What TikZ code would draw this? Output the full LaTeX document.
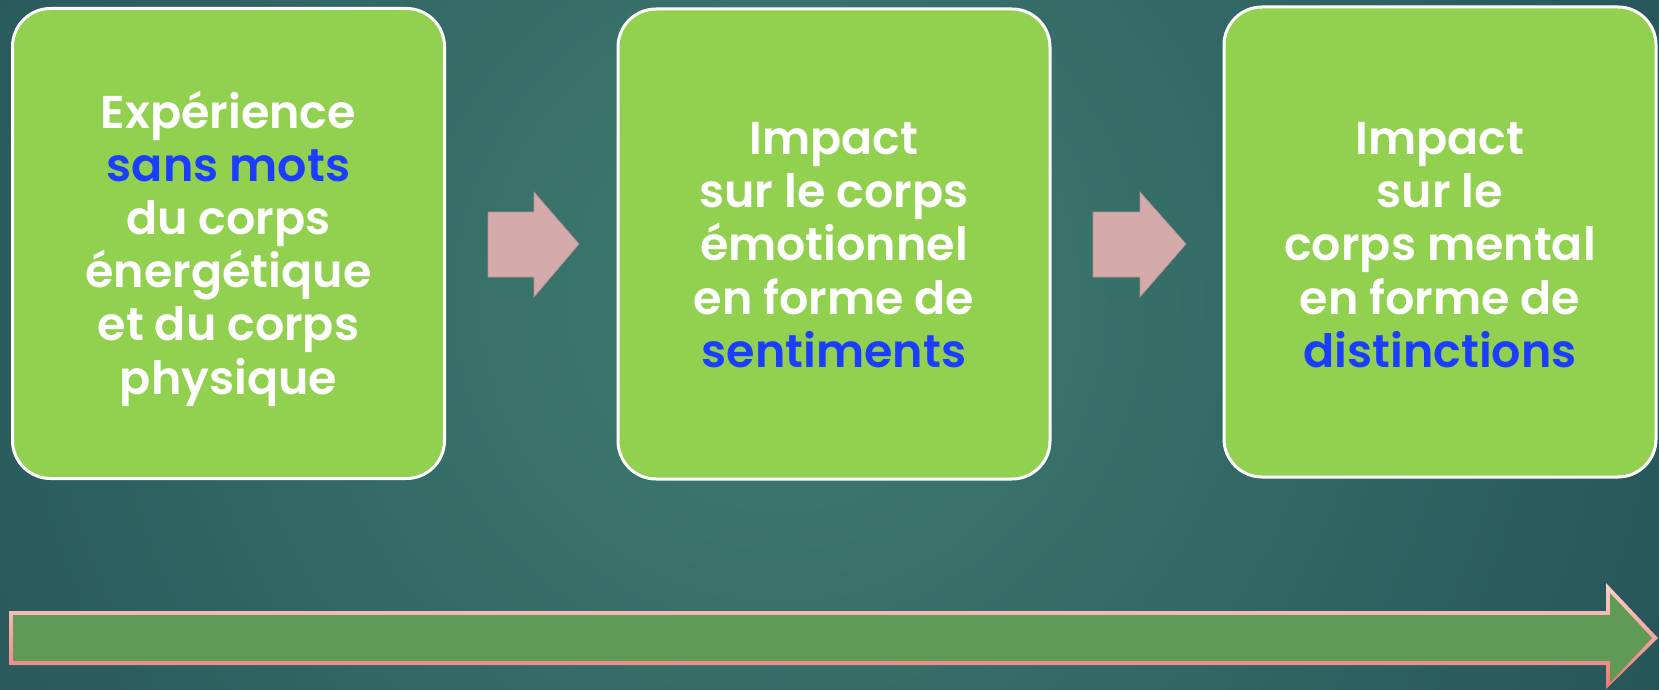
\documentclass[tikz,border=0pt]{standalone}
\usepackage{fontspec}
\setmainfont{Poppins}[BoldFont={Poppins SemiBold}]
\definecolor{bgout}{HTML}{183F4C}
\definecolor{bgin}{HTML}{3F7D71}
\definecolor{boxgreen}{HTML}{92D050}
\definecolor{txtblue}{HTML}{1A3DFF}
\definecolor{arrpink}{HTML}{D4AAAA}
\definecolor{arrgreen}{HTML}{5F9B57}
\definecolor{rimtop}{HTML}{F9D2CA}
\definecolor{rimbot}{HTML}{F07676}
\tikzset{
  stepbox/.style={draw=white, line width=1.5pt, fill=boxgreen, rounded corners=19pt,
    minimum width=216pt, minimum height=235pt, inner sep=0pt},
  steptext/.style={inner sep=0pt, align=center,
    text=white, font=\bfseries\fontsize{23}{26.6}\selectfont}
}
\newcommand{\bw}[1]{\textcolor{txtblue}{#1}}
\begin{document}
\begin{tikzpicture}[x=0.5pt,y=-0.5pt]
\useasboundingbox (0,0) rectangle (1659,690);
% background
\fill[bgout] (0,0) rectangle (1659,690);
\begin{scope}
\clip (0,0) rectangle (1659,690);
\shade[inner color=bgin, outer color=bgout] (780,300) circle (1500);
\end{scope}
% boxes
\node[stepbox] (b1) at (228.5,243.5) {};
\node[steptext] (t1) at ([yshift=-2.5pt]b1.center) {Expérience\\\bw{sans mots}\\du corps\\énergétique\\et du corps\\physique};
\node[stepbox] (b2) at (834,244) {};
\node[steptext] (t2) at ([yshift=-0.5pt]b2.center) {Impact\\sur le corps\\émotionnel\\en forme de\\\bw{sentiments}};
\node[stepbox] (b3) at (1440,242) {};
\node[steptext] (t3) at ([yshift=-1.5pt]b3.center) {Impact\\sur le\\corps mental\\en forme de\\\bw{distinctions}};
% small arrows
\fill[arrpink, draw=arrpink!85!black, line width=0.3pt]
  (488,212) -- (534,212) -- (534,192) -- (579,244) -- (534,297) -- (534,277) -- (488,277) -- cycle;
\fill[arrpink, draw=arrpink!85!black, line width=0.3pt]
  (1093,212) -- (1140,212) -- (1140,192) -- (1186,244) -- (1140,297) -- (1140,277) -- (1093,277) -- cycle;
% big arrow
\shade[top color=rimtop, bottom color=rimbot]
  (9,611) -- (1606,611) -- (1606,583) -- (1658,638) -- (1606,689) -- (1606,665) -- (9,665) -- cycle;
\fill[arrgreen]
  (13,615) -- (1610,615) -- (1610,593) -- (1652,638) -- (1610,683) -- (1610,661) -- (13,661) -- cycle;
\end{tikzpicture}
\end{document}
